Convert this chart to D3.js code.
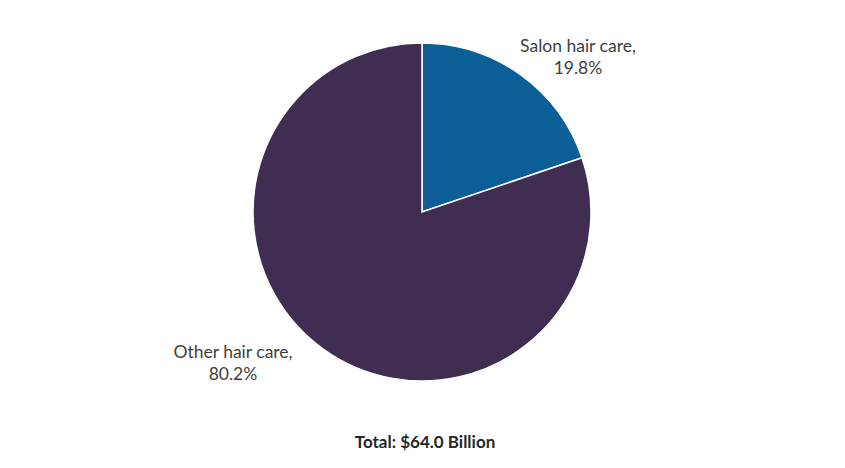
<!DOCTYPE html>
<html>
<head>
<meta charset="utf-8">
<script src="https://cdn.jsdelivr.net/npm/d3@7"></script>
<style>
  html, body { margin: 0; padding: 0; background: #fff; }
  svg { display: block; font-family: Lato, "Open Sans", sans-serif; }
</style>
</head>
<body>
<svg id="chart" width="845" height="468"></svg>
<script>
// Hair care market share by segment
const segments = ["Salon hair care", "Other hair care"];
const shares = [19.8, 80.2];
const colors = ["#0c5f96", "#3f2d52"];
const totalLabel = "Total: $64.0 Billion";

const svg = d3.select("#chart");
const cx = 422, cy = 212, radius = 169;

const pie = d3.pie().sort(null).value(d => d.value);
const arc = d3.arc().innerRadius(0).outerRadius(radius);
const data = segments.map((name, i) => ({ name, value: shares[i], color: colors[i] }));
const arcs = pie(data);

const g = svg.append("g").attr("transform", `translate(${cx},${cy})`);
g.selectAll("path")
  .data(arcs)
  .join("path")
  .attr("d", arc)
  .attr("fill", d => d.data.color)
  .attr("stroke", "#fff")
  .attr("stroke-width", 1.5);

// Category labels placed outside each slice
const labelPos = [[578, 52], [233, 358]];
arcs.forEach((a, i) => {
  const t = svg.append("text")
    .attr("x", labelPos[i][0])
    .attr("y", labelPos[i][1])
    .attr("text-anchor", "middle")
    .attr("fill", "#404040")
    .attr("font-size", 17.5);
  t.append("tspan").attr("x", labelPos[i][0]).text(a.data.name + ",");
  t.append("tspan").attr("x", labelPos[i][0]).attr("dy", 22).text(a.data.value.toFixed(1) + "%");
});

svg.append("text")
  .attr("x", 425)
  .attr("y", 448)
  .attr("text-anchor", "middle")
  .attr("font-size", 17)
  .attr("font-weight", "bold")
  .attr("fill", "#262626")
  .text(totalLabel);
</script>
</body>
</html>
